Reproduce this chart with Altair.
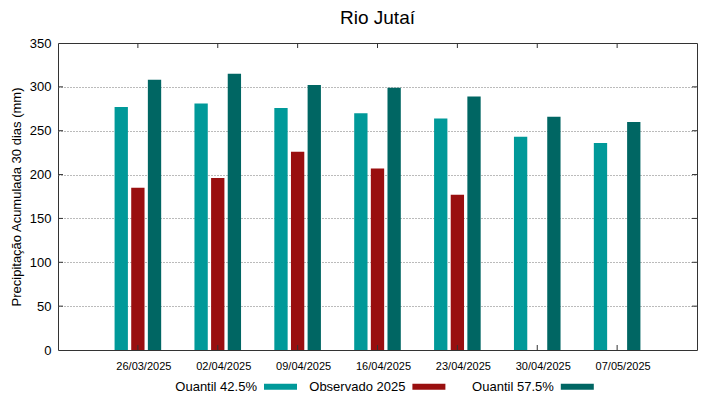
import altair as alt
import pandas as pd

dates = ["26/03/2025", "02/04/2025", "09/04/2025", "16/04/2025",
         "23/04/2025", "30/04/2025", "07/05/2025"]
q425 = [277, 281, 276, 270, 264, 243, 236]
obs = [185, 196, 226, 207, 177]
q575 = [308, 315, 302, 299, 289, 266, 260]

series = ["Quantil 42.5%", "Observado 2025", "Quantil 57.5%"]
colors = ["#009999", "#990f0f", "#006663"]
y_ticks = [0, 50, 100, 150, 200, 250, 300, 350]
inner_ticks = [50, 100, 150, 200, 250, 300]

rows = []
for d, v in zip(dates, q425):
    rows.append({"data": d, "serie": series[0], "valor": v})
for d, v in zip(dates, obs):
    rows.append({"data": d, "serie": series[1], "valor": v})
for d, v in zip(dates, q575):
    rows.append({"data": d, "serie": series[2], "valor": v})
df = pd.DataFrame(rows)

W, H = 639, 307
FONT = "Liberation Sans"
PAD = "\u200b" + "\u00a0" * 4

xscale = alt.Scale(domain=dates, paddingInner=0, paddingOuter=0.5)
yscale = alt.Scale(domain=[0, 350], nice=False)

bars = alt.Chart(df).mark_bar().encode(
    x=alt.X("data:N", scale=xscale, sort=dates,
            axis=alt.Axis(title=None, labelAngle=0, ticks=False, domain=False,
                          labelPadding=10, labelFontSize=11, labelOffset=6)),
    xOffset=alt.XOffset("serie:N", sort=series,
                        scale=alt.Scale(domain=series, paddingInner=0.2, paddingOuter=1)),
    y=alt.Y("valor:Q", scale=yscale,
            axis=alt.Axis(title="Precipitação Acumulada 30 dias (mm)", values=y_ticks,
                          ticks=False, domain=False, labelPadding=7, titlePadding=6,
                          titleFontSize=13, titleFontWeight="normal", labelFontSize=13,
                          grid=True, gridColor="#777777", gridDash=[1, 2],
                          gridOpacity={"condition": {"test": "datum.value <= 0 || datum.value >= 350", "value": 0}, "value": 1})),
    color=alt.Color("serie:N", sort=series,
                    scale=alt.Scale(domain=series, range=colors),
                    legend=alt.Legend(title=None, orient="none", direction="horizontal",
                                      legendX=206, legendY=327,
                                      symbolType="M-1,-0.18H1V0.18H-1Z", symbolSize=1089,
                                      symbolStrokeWidth=0, labelAlign="right",
                                      labelOffset=alt.ExprRef("-40"),
                                      labelExpr="datum.label == '" + series[1] + "' ? datum.label : '" + PAD + "' + datum.label",
                                      columnPadding=11.4, labelFontSize=13, labelColor="#000000")),
)

xt = pd.DataFrame({"data": dates})
yt = pd.DataFrame({"valor": inner_ticks})

tick_bottom = alt.Chart(xt).mark_rule(color="#333333").encode(
    x=alt.X("data:N", scale=xscale, sort=dates), y=alt.value(H), y2=alt.value(H - 5))
tick_top = alt.Chart(xt).mark_rule(color="#333333").encode(
    x=alt.X("data:N", scale=xscale, sort=dates), y=alt.value(0), y2=alt.value(5))
tick_left = alt.Chart(yt).mark_rule(color="#333333").encode(
    y=alt.Y("valor:Q", scale=yscale), x=alt.value(0), x2=alt.value(5))
tick_right = alt.Chart(yt).mark_rule(color="#333333").encode(
    y=alt.Y("valor:Q", scale=yscale), x=alt.value(W), x2=alt.value(W - 5))

chart = alt.layer(bars, tick_bottom, tick_top, tick_left, tick_right).properties(
    width=W, height=H,
    autosize=alt.AutoSizeParams(type="none"),
    padding={"left": 50, "top": 35, "right": 14, "bottom": 41},
    title=alt.TitleParams("Rio Jutaí", fontSize=19, font=FONT, fontWeight="normal",
                          anchor="middle", frame="group", offset=9, color="#000000"),
).configure_view(stroke="#333333", strokeWidth=1).configure_axis(
    labelFont=FONT, titleFont=FONT, labelColor="#000000", titleColor="#000000"
).configure_legend(labelFont=FONT)

chart.save("out.html", embed_options={"renderer": "svg", "actions": False})
